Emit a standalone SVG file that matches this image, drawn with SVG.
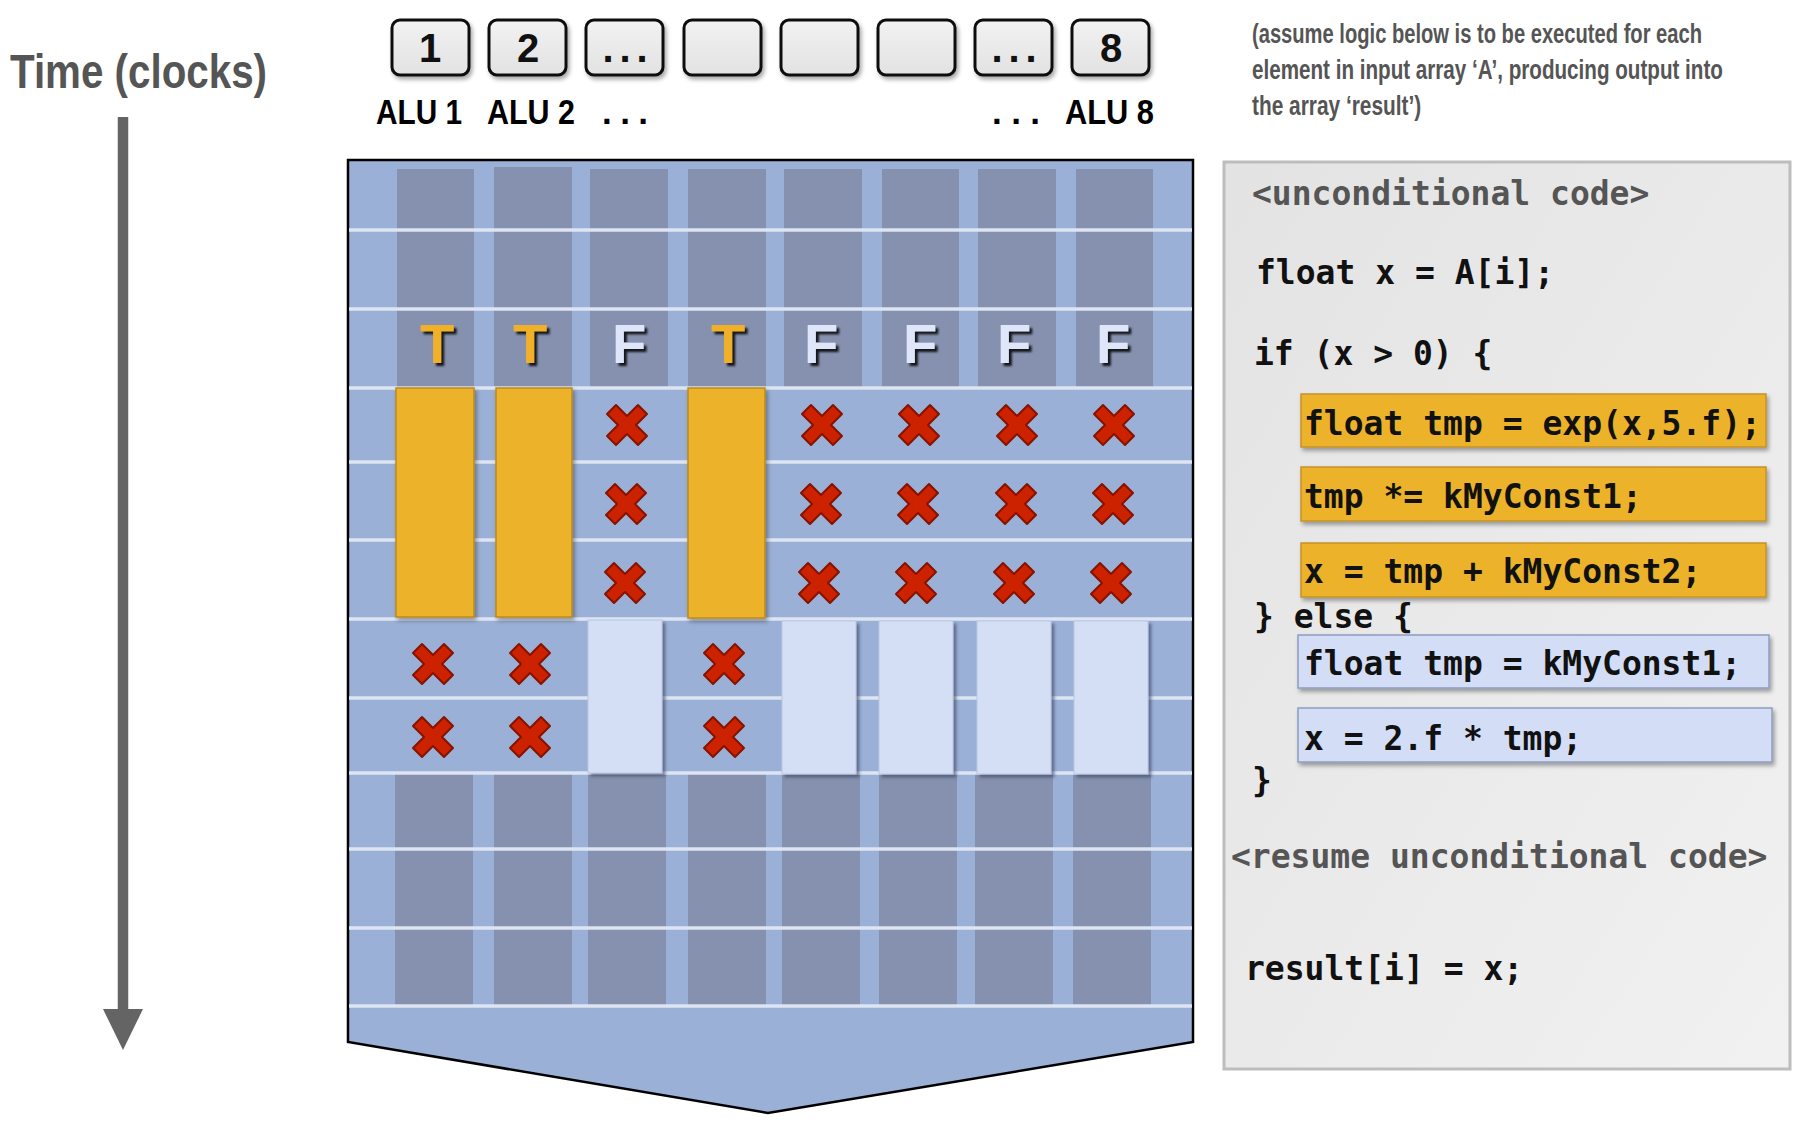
<svg xmlns="http://www.w3.org/2000/svg" width="1804" height="1124" viewBox="0 0 1804 1124">
<defs>
  <linearGradient id="gAlu" x1="0" y1="0" x2="0" y2="1">
    <stop offset="0" stop-color="#f2f2f2"/>
    <stop offset="1" stop-color="#e2e2e2"/>
  </linearGradient>
  <linearGradient id="gPanel" x1="0" y1="0" x2="1" y2="1">
    <stop offset="0" stop-color="#e3e3e3"/>
    <stop offset="1" stop-color="#f1f1f1"/>
  </linearGradient>
  <filter id="shadow" x="-10%" y="-10%" width="130%" height="130%">
    <feDropShadow dx="2" dy="3" stdDeviation="2" flood-color="#000" flood-opacity="0.35"/>
  </filter>
  <filter id="boxShadow" x="-10%" y="-10%" width="130%" height="130%">
    <feDropShadow dx="3" dy="3" stdDeviation="1.5" flood-color="#2e3a55" flood-opacity="0.55"/>
  </filter>
  <filter id="letterShadow" x="-20%" y="-20%" width="150%" height="150%">
    <feDropShadow dx="3" dy="3" stdDeviation="1.2" flood-color="#000" flood-opacity="0.85"/>
  </filter>
  <polygon id="cross" points="-20,-11 -11,-20 0,-9 11,-20 20,-11 9,0 20,11 11,20 0,9 -11,20 -20,11 -9,0"/>
  <style>
    .alu { fill: url(#gAlu); stroke: #111; stroke-width: 3; filter: url(#shadow); }
    .alunum { font-family: "Liberation Sans", Arial, sans-serif; font-weight: bold; font-size: 40px; fill: #111; text-anchor: middle; }
    .alulbl { font-family: "Liberation Sans", Arial, sans-serif; font-weight: bold; font-size: 35px; fill: #000; }
    .title { font-family: "Liberation Sans", Arial, sans-serif; font-weight: bold; font-size: 48px; fill: #555; }
    .note { font-family: "Liberation Sans", Arial, sans-serif; font-weight: bold; font-size: 28px; fill: #555; }
    .dark { fill: #8591ae; }
    .rowline { stroke: #dde4f2; stroke-width: 3.5; }
    .ybar { fill: #ebb22b; stroke: #bf8a1c; stroke-width: 1.5; filter: url(#shadow); }
    .lbox { fill: #d4dff6; stroke: #b9c6e2; stroke-width: 1; filter: url(#boxShadow); }
    .x { fill: #cc2200; stroke: #861300; stroke-width: 2; stroke-linejoin: round; }
    .tf { font-family: "Liberation Sans", Arial, sans-serif; font-weight: bold; font-size: 56px; text-anchor: middle; filter: url(#letterShadow); }
    .t { fill: #f0b02a; }
    .f { fill: #dfe6fa; }
    .code { font-family: "DejaVu Sans Mono", "Liberation Mono", monospace; font-weight: bold; font-size: 33px; fill: #111; white-space: pre; }
    .codegray { fill: #555; }
    .cy { fill: #ecb32b; stroke: #c5922a; stroke-width: 1.5; filter: url(#shadow); }
    .cb { fill: #d3def6; stroke: #8d9dc2; stroke-width: 1.5; filter: url(#shadow); }
  </style>
</defs>

<rect width="1804" height="1124" fill="#ffffff"/>

<!-- Time axis -->
<g id="time-axis">
  <text class="title" x="10" y="88" textLength="257" lengthAdjust="spacingAndGlyphs">Time (clocks)</text>
  <line x1="123" y1="117" x2="123" y2="1012" stroke="#646464" stroke-width="10.5"/>
  <polygon points="103,1009 143,1009 123,1050" fill="#646464"/>
</g>

<!-- ALU boxes -->
<g id="alu-1"><rect class="alu" x="392" y="20" width="77" height="55" rx="8"/><text class="alunum" x="430" y="62">1</text></g>
<g id="alu-2"><rect class="alu" x="489" y="20" width="77" height="55" rx="8"/><text class="alunum" x="528" y="62">2</text></g>
<g id="alu-3"><rect class="alu" x="586" y="20" width="77" height="55" rx="8"/><text class="alunum" x="625" y="62" textLength="45">...</text></g>
<g id="alu-4"><rect class="alu" x="684" y="20" width="77" height="55" rx="8"/></g>
<g id="alu-5"><rect class="alu" x="781" y="20" width="77" height="55" rx="8"/></g>
<g id="alu-6"><rect class="alu" x="878" y="20" width="77" height="55" rx="8"/></g>
<g id="alu-7"><rect class="alu" x="975" y="20" width="77" height="55" rx="8"/><text class="alunum" x="1014" y="62" textLength="45">...</text></g>
<g id="alu-8"><rect class="alu" x="1072" y="20" width="77" height="55" rx="8"/><text class="alunum" x="1111" y="62">8</text></g>

<g id="alu-labels">
  <text class="alulbl" x="376" y="124" textLength="86" lengthAdjust="spacingAndGlyphs">ALU 1</text>
  <text class="alulbl" x="487" y="124" textLength="88" lengthAdjust="spacingAndGlyphs">ALU 2</text>
  <text class="alulbl" x="602" y="124" textLength="46">...</text>
  <text class="alulbl" x="992" y="124" textLength="48">...</text>
  <text class="alulbl" x="1065" y="124" textLength="89" lengthAdjust="spacingAndGlyphs">ALU 8</text>
</g>

<!-- Execution grid -->
<g id="grid">
  <polygon points="348,160 1193,160 1193,1042 768,1113 348,1042" fill="#9bb0d6" stroke="#000" stroke-width="2.5" stroke-linejoin="miter"/>
  <g id="dark-top">
    <rect class="dark" x="397" y="169" width="77" height="219"/>
    <rect class="dark" x="494" y="167" width="78" height="221"/>
    <rect class="dark" x="590" y="169" width="78" height="219"/>
    <rect class="dark" x="688" y="169" width="78" height="219"/>
    <rect class="dark" x="784" y="169" width="78" height="219"/>
    <rect class="dark" x="882" y="169" width="77" height="219"/>
    <rect class="dark" x="978" y="169" width="78" height="219"/>
    <rect class="dark" x="1076" y="169" width="77" height="219"/>
  </g>
  <g id="dark-bottom">
    <rect class="dark" x="395" y="772" width="78" height="234"/>
    <rect class="dark" x="494" y="772" width="78" height="234"/>
    <rect class="dark" x="588" y="772" width="78" height="234"/>
    <rect class="dark" x="688" y="772" width="78" height="234"/>
    <rect class="dark" x="782" y="772" width="78" height="234"/>
    <rect class="dark" x="879" y="772" width="78" height="234"/>
    <rect class="dark" x="975" y="772" width="78" height="234"/>
    <rect class="dark" x="1073" y="772" width="78" height="234"/>
  </g>
  <g id="row-lines">
    <line class="rowline" x1="349" y1="230" x2="1192" y2="230"/>
    <line class="rowline" x1="349" y1="309" x2="1192" y2="309"/>
    <line class="rowline" x1="349" y1="388" x2="1192" y2="388"/>
    <line class="rowline" x1="349" y1="462" x2="1192" y2="462"/>
    <line class="rowline" x1="349" y1="540" x2="1192" y2="540"/>
    <line class="rowline" x1="349" y1="619" x2="1192" y2="619"/>
    <line class="rowline" x1="349" y1="698" x2="1192" y2="698"/>
    <line class="rowline" x1="349" y1="773" x2="1192" y2="773"/>
    <line class="rowline" x1="349" y1="849" x2="1192" y2="849"/>
    <line class="rowline" x1="349" y1="928" x2="1192" y2="928"/>
    <line class="rowline" x1="349" y1="1006" x2="1192" y2="1006"/>
  </g>
  <g id="predicates">
    <text class="tf t" x="437" y="363">T</text>
    <text class="tf t" x="530" y="363">T</text>
    <text class="tf f" x="629" y="363">F</text>
    <text class="tf t" x="728" y="363">T</text>
    <text class="tf f" x="821" y="363">F</text>
    <text class="tf f" x="920" y="363">F</text>
    <text class="tf f" x="1014" y="363">F</text>
    <text class="tf f" x="1113" y="363">F</text>
  </g>
  <g id="true-bars">
    <rect class="ybar" x="396" y="388" width="78" height="229"/>
    <rect class="ybar" x="496" y="388" width="76" height="229"/>
    <rect class="ybar" x="688" y="388" width="77" height="230"/>
  </g>
  <g id="false-boxes">
    <rect class="lbox" x="588" y="620" width="74" height="153"/>
    <rect class="lbox" x="782" y="621" width="74" height="153"/>
    <rect class="lbox" x="879" y="621" width="74" height="153"/>
    <rect class="lbox" x="977" y="621" width="74" height="153"/>
    <rect class="lbox" x="1074" y="621" width="74" height="153"/>
  </g>
  <g id="masked">
    <use href="#cross" class="x" x="627" y="425"/>
    <use href="#cross" class="x" x="626" y="504"/>
    <use href="#cross" class="x" x="625" y="583"/>
    <use href="#cross" class="x" x="822" y="425"/>
    <use href="#cross" class="x" x="821" y="504"/>
    <use href="#cross" class="x" x="819" y="583"/>
    <use href="#cross" class="x" x="919" y="425"/>
    <use href="#cross" class="x" x="918" y="504"/>
    <use href="#cross" class="x" x="916" y="583"/>
    <use href="#cross" class="x" x="1017" y="425"/>
    <use href="#cross" class="x" x="1016" y="504"/>
    <use href="#cross" class="x" x="1014" y="583"/>
    <use href="#cross" class="x" x="1114" y="425"/>
    <use href="#cross" class="x" x="1113" y="504"/>
    <use href="#cross" class="x" x="1111" y="583"/>
    <use href="#cross" class="x" x="433" y="664"/>
    <use href="#cross" class="x" x="530" y="664"/>
    <use href="#cross" class="x" x="724" y="664"/>
    <use href="#cross" class="x" x="433" y="737"/>
    <use href="#cross" class="x" x="530" y="737"/>
    <use href="#cross" class="x" x="724" y="737"/>
  </g>
</g>

<!-- Note -->
<g id="note">
  <text class="note" transform="translate(1252,43) scale(0.72,1)" x="0" y="0" textLength="625" lengthAdjust="spacingAndGlyphs">(assume logic below is to be executed for each</text>
  <text class="note" transform="translate(1252,79) scale(0.72,1)" x="0" y="0" textLength="654" lengthAdjust="spacingAndGlyphs">element in input array ‘A’, producing output into</text>
  <text class="note" transform="translate(1252,115) scale(0.72,1)" x="0" y="0" textLength="235" lengthAdjust="spacingAndGlyphs">the array ‘result’)</text>
</g>

<!-- Code panel -->
<g id="code-panel">
  <rect x="1224" y="162" width="566" height="907" fill="url(#gPanel)" stroke="#bdbdbd" stroke-width="3"/>
  <text class="code codegray" x="1252" y="205">&lt;unconditional code&gt;</text>
  <text class="code" x="1256" y="284">float x = A[i];</text>
  <text class="code" x="1254" y="365">if (x &gt; 0) {</text>
  <g id="code-true-1"><rect class="cy" x="1301" y="394" width="465" height="53"/><text class="code" x="1304" y="435">float tmp = exp(x,5.f);</text></g>
  <g id="code-true-2"><rect class="cy" x="1301" y="467" width="465" height="54"/><text class="code" x="1304" y="508">tmp *= kMyConst1;</text></g>
  <g id="code-true-3"><rect class="cy" x="1301" y="543" width="465" height="54"/><text class="code" x="1304" y="583">x = tmp + kMyConst2;</text></g>
  <text class="code" x="1254" y="628">} else {</text>
  <g id="code-false-1"><rect class="cb" x="1298" y="635" width="471" height="53"/><text class="code" x="1304" y="675">float tmp = kMyConst1;</text></g>
  <g id="code-false-2"><rect class="cb" x="1298" y="708" width="474" height="54"/><text class="code" x="1304" y="750">x = 2.f * tmp;</text></g>
  <text class="code" x="1252" y="792">}</text>
  <text class="code codegray" x="1231" y="868">&lt;resume unconditional code&gt;</text>
  <text class="code" x="1245" y="980">result[i] = x;</text>
</g>
</svg>
